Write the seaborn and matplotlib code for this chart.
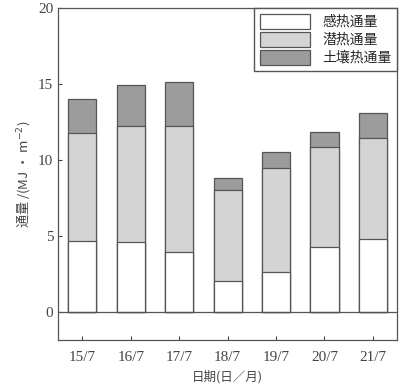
import pandas as pd
import matplotlib.pyplot as plt
import seaborn as sns

dates = ['15/7', '16/7', '17/7', '18/7', '19/7', '20/7', '21/7']
sensible = [4.7, 4.6, 3.95, 2.05, 2.65, 4.3, 4.8]
latent = [7.05, 7.65, 8.3, 6.0, 6.85, 6.55, 6.65]
soil = [2.25, 2.7, 2.9, 0.75, 1.0, 1.0, 1.65]

df = pd.DataFrame({'date': dates, 'sensible': sensible, 'latent': latent, 'soil': soil})
df['top_latent'] = df['sensible'] + df['latent']
df['total'] = df['top_latent'] + df['soil']

sns.set_style('ticks')
plt.rcParams['font.family'] = ['Liberation Serif', 'Noto Sans CJK SC']
cjk = ['Noto Sans CJK SC', 'DejaVu Sans']

fig = plt.figure(figsize=(4.18, 3.89), dpi=100)
ax = fig.add_axes([0.139, 0.126, 0.811, 0.853])

edge = '#555555'
# stacked by overdrawing: total first, then latent top, then sensible
sns.barplot(data=df, x='date', y='total', color='#9c9c9c', saturation=1, width=0.58,
            edgecolor=edge, linewidth=0.9, ax=ax, label='土壤热通量')
sns.barplot(data=df, x='date', y='top_latent', color='#d4d4d4', saturation=1, width=0.58,
            edgecolor=edge, linewidth=0.9, ax=ax, label='潜热通量')
sns.barplot(data=df, x='date', y='sensible', color='white', saturation=1, width=0.58,
            edgecolor=edge, linewidth=0.9, ax=ax, label='感热通量')

ax.axhline(0, color=edge, lw=0.9)
ax.set_xlim(-0.5, 6.5)
ax.set_ylim(-1.85, 20)
ax.set_yticks([0, 5, 10, 15, 20])
ax.tick_params(direction='in', length=3, labelsize=11, colors='#444444', width=0.8)
ax.tick_params(axis='x', pad=8)
for s in ax.spines.values():
    s.set_color('#555555')
    s.set_linewidth(0.9)

ax.set_xlabel('日期(日／月)', family=cjk, fontsize=9, color='#444444')
ax.set_ylabel('通量 /(MJ · m$^{-2}$)', family=cjk, fontsize=9.5, color='#444444')

h, l = ax.get_legend_handles_labels()
order = [2, 1, 0]
ax.legend([h[i] for i in order], [l[i] for i in order], loc='upper right',
          prop={'family': cjk, 'size': 10}, fancybox=False, edgecolor='#555555',
          framealpha=1, borderaxespad=0, handlelength=3.6, handleheight=1.3,
          labelspacing=0.2, handletextpad=0.9, borderpad=0.4)

fig.savefig('out.png', dpi=100)
